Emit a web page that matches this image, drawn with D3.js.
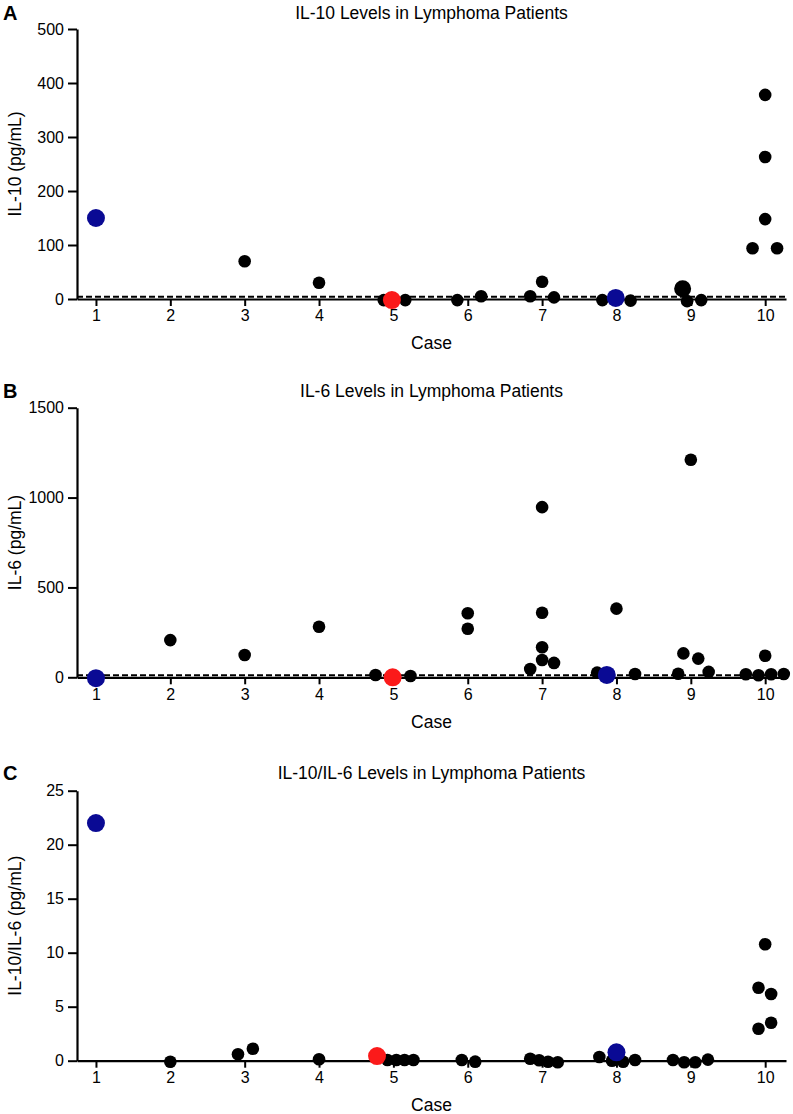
<!DOCTYPE html>
<html>
<head>
<meta charset="utf-8">
<script src="https://cdn.jsdelivr.net/npm/d3@7"></script>
<style>
  html, body { margin: 0; padding: 0; background: #fff; }
  svg { display: block; font-family: "Liberation Sans", Arial, Helvetica, sans-serif; }
</style>
</head>
<body>
<svg id="chart" width="793" height="1114"></svg>
<script>
// ---------- DATA ----------
const caseTicks = [1, 2, 3, 4, 5, 6, 7, 8, 9, 10];

// Panel A: IL-10
const il10Case  = [1, 3, 4, 4.87, 4.98, 5.16, 5.86, 6.18, 6.84, 7.0, 7.16, 7.81, 7.99, 8.19, 8.89, 8.95, 9.14, 9.83, 10, 10, 10, 10.16];
const il10Value = [150, 70, 30, -2, -2, -2, -2, 5, 5, 32, 3, -2, 2, -3, 19, -4, -2, 94, 378, 263, 148, 94];
const il10Group = ["blue","black","black","black","red","black","black","black","black","black","black","black","blue","black","big","black","black","black","black","black","black","black"];
const il10Ticks = [0, 100, 200, 300, 400, 500];

// Panel B: IL-6
const il6Case  = [1, 2, 3, 4, 4.76, 4.99, 5.23, 6, 6, 6.84, 7, 7, 7, 7, 7.16, 7.74, 7.87, 8.0, 8.25, 8.83, 8.9, 9.0, 9.1, 9.24, 9.74, 9.91, 10.0, 10.08, 10.25];
const il6Value = [-5, 207, 124, 281, 13, 0, 7, 356, 270, 46, 947, 359, 167, 96, 80, 26, 13, 382, 18, 20, 133, 1210, 104, 30, 17, 11, 120, 17, 18];
const il6Group = ["blue","black","black","black","black","red","black","black","black","black","black","black","black","black","black","black","blue","black","black","black","black","black","black","black","black","black","black","black","black"];
const il6Ticks = [0, 500, 1000, 1500];

// Panel C: IL-10/IL-6
const ratioCase  = [1, 2, 2.91, 3.11, 4.0, 4.78, 4.92, 5.04, 5.15, 5.27, 5.92, 6.1, 6.84, 6.96, 7.08, 7.21, 7.77, 7.94, 8.0, 8.09, 8.25, 8.76, 8.91, 9.06, 9.23, 9.91, 10.08, 9.91, 10.0, 10.08];
const ratioValue = [22, -0.1, 0.59, 1.11, 0.13, 0.43, 0.07, 0.07, 0.07, 0.07, 0.06, -0.09, 0.18, 0.04, -0.1, -0.15, 0.34, 0.0, 0.78, -0.1, 0.06, 0.06, -0.15, -0.15, 0.1, 2.96, 3.52, 6.76, 10.78, 6.18];
const ratioGroup = ["blue","black","black","black","black","red","black","black","black","black","black","black","black","black","black","black","black","black","blue","black","black","black","black","black","black","black","black","black","black","black"];
const ratioTicks = [0, 5, 10, 15, 20, 25];

// ---------- STYLE ----------
const colors = { black: "#000000", big: "#000000", blue: "#0a0a94", red: "#fb1a1a" };
const radius = { black: 6.3, big: 8.5, blue: 9, red: 9 };
const order  = { black: 0, big: 0, blue: 1, red: 1 };
const FONT = "'Liberation Sans', Arial, Helvetica, sans-serif";

const svg = d3.select("#chart");
const left = 77, right = 786;

const panels = [
  { letter: "A", title: "IL-10 Levels in Lymphoma Patients", ylabel: "IL-10 (pg/mL)",
    xs: il10Case, ys: il10Value, gs: il10Group, ticks: il10Ticks, top: 29, bottom: 299, dashed: 4, titleY: 12.7 },
  { letter: "B", title: "IL-6 Levels in Lymphoma Patients", ylabel: "IL-6 (pg/mL)",
    xs: il6Case, ys: il6Value, gs: il6Group, ticks: il6Ticks, top: 407.7, bottom: 677.3, dashed: 12, titleY: 391 },
  { letter: "C", title: "IL-10/IL-6 Levels in Lymphoma Patients", ylabel: "IL-10/IL-6 (pg/mL)",
    xs: ratioCase, ys: ratioValue, gs: ratioGroup, ticks: ratioTicks, top: 790.7, bottom: 1060.7, dashed: null, titleY: 773 }
];

panels.forEach(p => {
  const g = svg.append("g").attr("font-family", FONT);
  const x = d3.scaleLinear().domain([0.745, 10.28]).range([left, right]);
  const yMax = p.ticks[p.ticks.length - 1];
  const y = d3.scaleLinear().domain([0, yMax]).range([p.bottom, p.top]);

  // title and panel letter
  g.append("text").attr("x", (left + right) / 2).attr("y", p.titleY).attr("dy", "0.36em")
    .attr("text-anchor", "middle").style("font-size", "17.5px").text(p.title);
  g.append("text").attr("x", 3).attr("y", p.titleY).attr("dy", "0.36em")
    .style("font-size", "20px").attr("font-weight", "bold").text(p.letter);

  // y label
  g.append("text")
    .attr("transform", `translate(15,${(p.top + p.bottom) / 2}) rotate(-90)`)
    .attr("dy", "0.36em").attr("text-anchor", "middle").style("font-size", "17.5px").text(p.ylabel);

  // x label
  g.append("text").attr("x", (left + right) / 2).attr("y", p.bottom + 44).attr("dy", "0.36em")
    .attr("text-anchor", "middle").style("font-size", "17.5px").text("Case");

  // y axis
  const yAxis = g.append("g").attr("transform", `translate(${left},0)`)
    .call(d3.axisLeft(y).tickValues(p.ticks).tickFormat(d3.format("d")).tickSize(9).tickPadding(4).tickSizeOuter(0));
  yAxis.attr("font-family", FONT).attr("font-size", null);
  yAxis.select(".domain").attr("stroke-width", 2.2);
  yAxis.selectAll(".tick line").attr("stroke-width", 2);
  yAxis.selectAll(".tick text").style("font-size", "16px").attr("fill", "#000");

  // x axis
  const xAxis = g.append("g").attr("transform", `translate(0,${p.bottom})`)
    .call(d3.axisBottom(x).tickValues(caseTicks).tickFormat(d3.format("d")).tickSize(7).tickPadding(4).tickSizeOuter(0));
  xAxis.attr("font-family", FONT).attr("font-size", null);
  xAxis.select(".domain").attr("stroke-width", 2.2);
  xAxis.selectAll(".tick line").attr("stroke-width", 2);
  xAxis.selectAll(".tick text").style("font-size", "16px").attr("fill", "#000");

  // dashed reference line
  if (p.dashed !== null) {
    g.append("line").attr("x1", left).attr("x2", right)
      .attr("y1", y(p.dashed)).attr("y2", y(p.dashed))
      .attr("stroke", "#000").attr("stroke-width", 2).attr("stroke-dasharray", "6,3");
  }

  // points
  const pts = p.xs.map((cx, i) => ({ cx, v: p.ys[i], grp: p.gs[i] }))
    .sort((a, b) => order[a.grp] - order[b.grp]);
  g.append("g").selectAll("circle").data(pts).join("circle")
    .attr("cx", d => x(d.cx)).attr("cy", d => y(d.v))
    .attr("r", d => radius[d.grp]).attr("fill", d => colors[d.grp]);
});
</script>
</body>
</html>
